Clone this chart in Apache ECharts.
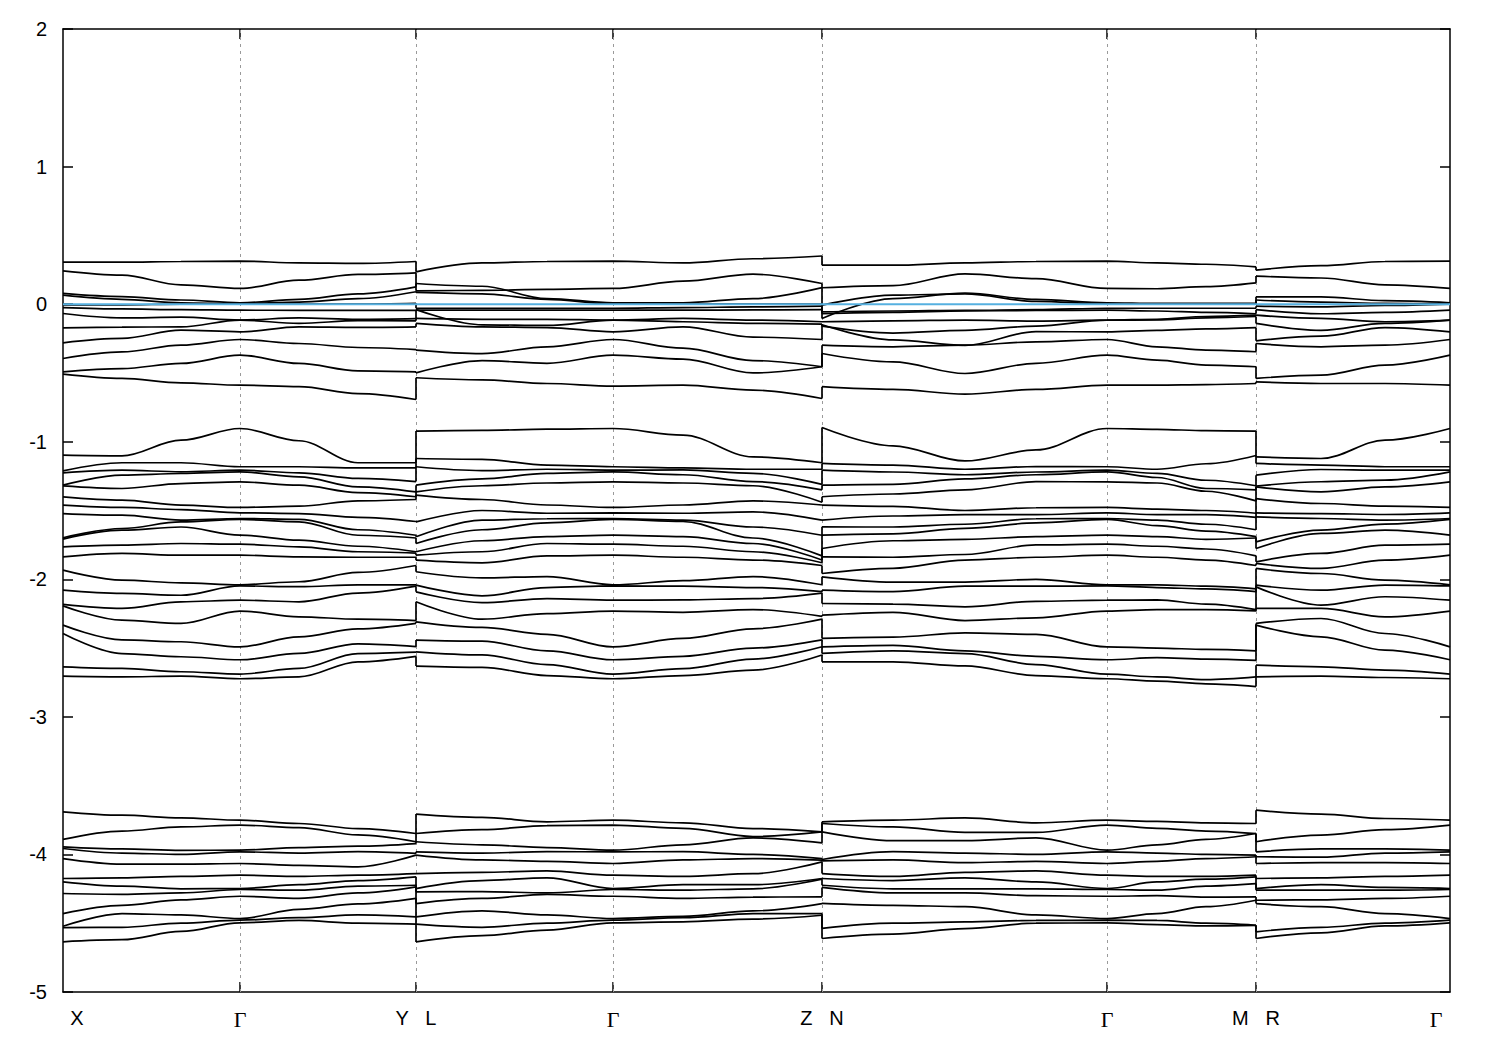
<!DOCTYPE html>
<html><head><meta charset="utf-8">
<script src="https://cdn.jsdelivr.net/npm/echarts@6/dist/echarts.min.js"></script>
<style>html,body{margin:0;padding:0;background:#fff}#c{width:1500px;height:1050px}</style>
</head><body><div id="c"></div>
<script>
// k-path sample positions (arbitrary path-length units) for the four path pieces
const kSeg1 = [0, 59, 118, 177, 236, 295, 353];
const kSeg2 = [353, 419, 484, 550, 620, 690, 759];
const kSeg3 = [759, 830, 902, 973, 1044, 1094, 1143, 1193];
const kSeg4 = [1193, 1258, 1322, 1387];
// high-symmetry points and their tick labels
const kPoints = [0, 177, 353, 550, 759, 1044, 1193, 1387];
const kNames = ['X', 'Γ', 'Y   L', 'Γ', 'Z   N', 'Γ', 'M   R', 'Γ'];
const yTicks = [-5, -4, -3, -2, -1, 0, 1, 2];

// top valence group: one row per band, 26 values along the path
const topBands = [
  [0.305,0.305,0.31,0.313,0.30,0.296,0.31, 0.235,0.30,0.31,0.313,0.30,0.33,0.35, 0.283,0.283,0.30,0.31,0.313,0.30,0.29,0.271, 0.247,0.28,0.31,0.313],
  [0.242,0.211,0.14,0.114,0.174,0.216,0.228, 0.097,0.10,0.107,0.114,0.167,0.218,0.15, 0.119,0.135,0.22,0.185,0.114,0.112,0.128,0.155, 0.204,0.19,0.14,0.114],
  [0.078,0.055,0.03,0.01,0.035,0.075,0.126, 0.15,0.13,0.04,0.01,0.01,0.04,0.12, -0.104,0.04,0.08,0.035,0.01,0.005,0.005,0.005, 0.053,0.053,0.025,0.01],
  [0.065,0.035,0.01,0.002,0.015,0.04,0.09, 0.085,0.075,0.035,0.002,0.0,0.0,0.0, -0.007,0.065,0.075,0.02,0.002,0.0,0.0,0.0, 0.03,0.015,0.005,0.002],
  [-0.005,-0.005,0.0,0.0,0.0,0.0,0.005, -0.03,-0.03,-0.03,-0.03,-0.025,-0.02,-0.015, -0.056,-0.05,-0.045,-0.04,-0.03,-0.03,-0.03,-0.03, -0.015,-0.02,-0.01,0.0],
  [-0.025,-0.035,-0.04,-0.044,-0.045,-0.045,-0.045, -0.044,-0.044,-0.044,-0.044,-0.044,-0.042,-0.04, -0.07,-0.06,-0.05,-0.046,-0.044,-0.05,-0.06,-0.07, -0.04,-0.07,-0.06,-0.044],
  [-0.068,-0.10,-0.095,-0.116,-0.10,-0.11,-0.105, -0.04,-0.15,-0.155,-0.116,-0.104,-0.116,-0.128, -0.128,-0.121,-0.116,-0.123,-0.116,-0.11,-0.09,-0.08, -0.08,-0.104,-0.128,-0.116],
  [-0.172,-0.167,-0.165,-0.116,-0.14,-0.12,-0.121, -0.104,-0.11,-0.11,-0.116,-0.128,-0.14,-0.145, -0.16,-0.21,-0.19,-0.16,-0.116,-0.115,-0.10,-0.09, -0.14,-0.19,-0.14,-0.116],
  [-0.281,-0.249,-0.189,-0.201,-0.165,-0.169,-0.165, -0.14,-0.165,-0.17,-0.201,-0.165,-0.24,-0.257, -0.15,-0.26,-0.30,-0.20,-0.201,-0.19,-0.18,-0.17, -0.267,-0.233,-0.17,-0.201],
  [-0.395,-0.347,-0.298,-0.257,-0.286,-0.315,-0.33, -0.334,-0.36,-0.31,-0.257,-0.32,-0.41,-0.455, -0.298,-0.31,-0.298,-0.274,-0.257,-0.31,-0.334,-0.346, -0.286,-0.31,-0.298,-0.257],
  [-0.492,-0.468,-0.431,-0.371,-0.431,-0.485,-0.492, -0.50,-0.41,-0.43,-0.371,-0.40,-0.50,-0.455, -0.359,-0.42,-0.504,-0.43,-0.371,-0.407,-0.443,-0.455, -0.54,-0.516,-0.443,-0.371],
  [-0.509,-0.54,-0.572,-0.589,-0.60,-0.65,-0.693, -0.535,-0.55,-0.577,-0.596,-0.589,-0.625,-0.686, -0.60,-0.62,-0.654,-0.62,-0.589,-0.589,-0.585,-0.577, -0.565,-0.577,-0.577,-0.589]
];

// middle group: levels at each sampled k (26 rows), 20 bands each
const midAtGamma = [-0.904,-1.182,-1.207,-1.219,-1.292,-1.478,-1.517,-1.558,-1.565,-1.679,-1.745,-1.825,-2.040,-2.048,-2.152,-2.231,-2.491,-2.585,-2.689,-2.723];
const midLevels = [
  [-1.098,-1.212,-1.226,-1.316,-1.321,-1.401,-1.461,-1.522,-1.698,-1.708,-1.764,-1.837,-1.933,-2.079,-2.183,-2.193,-2.333,-2.394,-2.637,-2.704],
  [-1.103,-1.153,-1.207,-1.243,-1.34,-1.425,-1.478,-1.534,-1.631,-1.643,-1.752,-1.812,-2.006,-2.103,-2.212,-2.297,-2.44,-2.54,-2.648,-2.709],
  [-0.989,-1.153,-1.219,-1.231,-1.304,-1.461,-1.493,-1.57,-1.583,-1.62,-1.74,-1.825,-2.026,-2.116,-2.164,-2.321,-2.454,-2.563,-2.672,-2.704],
  midAtGamma,
  [-0.993,-1.182,-1.226,-1.255,-1.316,-1.468,-1.522,-1.565,-1.582,-1.716,-1.764,-1.837,-2.018,-2.054,-2.164,-2.273,-2.418,-2.539,-2.648,-2.709],
  [-1.153,-1.19,-1.267,-1.328,-1.37,-1.43,-1.55,-1.64,-1.68,-1.76,-1.80,-1.84,-1.95,-2.04,-2.10,-2.29,-2.36,-2.47,-2.54,-2.60],
  [-1.153,-1.19,-1.29,-1.365,-1.40,-1.42,-1.58,-1.68,-1.70,-1.80,-1.81,-1.84,-1.90,-2.04,-2.05,-2.30,-2.32,-2.49,-2.53,-2.56],
  [-0.923,-1.122,-1.182,-1.316,-1.364,-1.388,-1.583,-1.691,-1.74,-1.8,-1.825,-1.861,-1.945,-2.042,-2.091,-2.163,-2.309,-2.442,-2.527,-2.631],
  [-0.918,-1.128,-1.21,-1.27,-1.32,-1.42,-1.50,-1.57,-1.64,-1.72,-1.80,-1.88,-1.99,-2.12,-2.17,-2.29,-2.35,-2.45,-2.55,-2.64],
  [-0.909,-1.17,-1.20,-1.23,-1.30,-1.46,-1.52,-1.56,-1.59,-1.69,-1.74,-1.83,-1.98,-2.06,-2.14,-2.25,-2.40,-2.52,-2.62,-2.70],
  midAtGamma,
  [-0.952,-1.19,-1.205,-1.24,-1.30,-1.46,-1.52,-1.57,-1.58,-1.69,-1.76,-1.84,-2.01,-2.05,-2.15,-2.24,-2.43,-2.56,-2.65,-2.70],
  [-1.11,-1.20,-1.23,-1.29,-1.32,-1.43,-1.51,-1.62,-1.70,-1.74,-1.80,-1.86,-1.98,-2.06,-2.14,-2.22,-2.36,-2.50,-2.58,-2.66],
  [-1.153,-1.20,-1.31,-1.35,-1.44,-1.46,-1.57,-1.68,-1.83,-1.86,-1.88,-1.90,-2.04,-2.09,-2.10,-2.27,-2.29,-2.44,-2.49,-2.55],
  [-0.897,-1.158,-1.207,-1.316,-1.40,-1.461,-1.57,-1.619,-1.679,-1.776,-1.837,-1.958,-1.982,-2.079,-2.176,-2.261,-2.43,-2.491,-2.539,-2.6],
  [-1.03,-1.17,-1.22,-1.31,-1.38,-1.47,-1.54,-1.62,-1.67,-1.72,-1.84,-1.92,-2.02,-2.09,-2.18,-2.24,-2.42,-2.48,-2.52,-2.60],
  [-1.14,-1.20,-1.24,-1.27,-1.35,-1.50,-1.53,-1.60,-1.63,-1.71,-1.82,-1.86,-2.02,-2.05,-2.20,-2.30,-2.39,-2.52,-2.54,-2.63],
  [-1.06,-1.18,-1.22,-1.24,-1.29,-1.48,-1.53,-1.56,-1.59,-1.69,-1.75,-1.84,-2.00,-2.05,-2.16,-2.28,-2.40,-2.56,-2.62,-2.70],
  midAtGamma,
  [-0.91,-1.20,-1.23,-1.26,-1.30,-1.49,-1.53,-1.57,-1.61,-1.69,-1.76,-1.84,-2.04,-2.06,-2.15,-2.22,-2.50,-2.57,-2.71,-2.74],
  [-0.92,-1.16,-1.28,-1.34,-1.36,-1.50,-1.53,-1.60,-1.65,-1.71,-1.78,-1.86,-2.05,-2.07,-2.18,-2.22,-2.51,-2.58,-2.73,-2.76],
  [-0.923,-1.10,-1.32,-1.35,-1.43,-1.52,-1.55,-1.64,-1.69,-1.70,-1.83,-1.90,-2.07,-2.09,-2.22,-2.23,-2.52,-2.59,-2.71,-2.78],
  [-1.11,-1.158,-1.243,-1.323,-1.328,-1.413,-1.517,-1.546,-1.728,-1.776,-1.873,-1.885,-1.921,-2.043,-2.055,-2.212,-2.321,-2.333,-2.624,-2.709],
  [-1.122,-1.17,-1.202,-1.291,-1.364,-1.449,-1.522,-1.558,-1.643,-1.667,-1.812,-1.921,-1.958,-2.079,-2.188,-2.212,-2.285,-2.418,-2.636,-2.704],
  [-0.989,-1.182,-1.207,-1.279,-1.328,-1.468,-1.529,-1.57,-1.599,-1.643,-1.752,-1.861,-2.006,-2.042,-2.127,-2.273,-2.394,-2.515,-2.660,-2.714],
  midAtGamma
];

// lower group: levels at each sampled k (26 rows), 12 bands each
const lowAtGamma = [-3.751,-3.787,-3.969,-3.981,-4.066,-4.151,-4.248,-4.255,-4.304,-4.466,-4.478,-4.497];
const lowLevels = [
  [-3.69,-3.891,-3.945,-3.957,-4.03,-4.175,-4.199,-4.284,-4.43,-4.522,-4.532,-4.635],
  [-3.715,-3.83,-3.96,-3.99,-4.07,-4.17,-4.23,-4.29,-4.37,-4.43,-4.53,-4.62],
  [-3.734,-3.80,-3.97,-4.00,-4.07,-4.16,-4.25,-4.28,-4.33,-4.44,-4.50,-4.56],
  lowAtGamma,
  [-3.775,-3.805,-3.95,-3.99,-4.08,-4.16,-4.22,-4.26,-4.32,-4.40,-4.46,-4.48],
  [-3.812,-3.858,-3.94,-3.98,-4.09,-4.15,-4.19,-4.23,-4.28,-4.36,-4.44,-4.50],
  [-3.848,-3.908,-3.921,-3.993,-4.005,-4.139,-4.163,-4.224,-4.236,-4.32,-4.454,-4.507],
  [-3.707,-3.848,-3.908,-3.981,-4.005,-4.139,-4.248,-4.272,-4.357,-4.454,-4.507,-4.636],
  [-3.731,-3.82,-3.93,-3.99,-4.04,-4.13,-4.19,-4.27,-4.32,-4.41,-4.53,-4.59],
  [-3.763,-3.79,-3.95,-3.98,-4.05,-4.12,-4.17,-4.28,-4.29,-4.44,-4.50,-4.55],
  lowAtGamma,
  [-3.77,-3.81,-3.93,-3.98,-4.04,-4.16,-4.22,-4.26,-4.32,-4.45,-4.46,-4.49],
  [-3.812,-3.87,-3.88,-4.00,-4.03,-4.14,-4.22,-4.25,-4.31,-4.41,-4.43,-4.47],
  [-3.836,-3.836,-3.916,-4.03,-4.042,-4.054,-4.175,-4.18,-4.308,-4.357,-4.43,-4.442],
  [-3.763,-3.775,-3.836,-4.037,-4.047,-4.139,-4.175,-4.224,-4.24,-4.356,-4.538,-4.611],
  [-3.75,-3.80,-3.90,-3.98,-4.04,-4.16,-4.19,-4.25,-4.28,-4.37,-4.50,-4.58],
  [-3.735,-3.84,-3.90,-3.99,-4.06,-4.13,-4.17,-4.25,-4.28,-4.38,-4.49,-4.54],
  [-3.77,-3.84,-3.88,-4.0,-4.05,-4.12,-4.20,-4.25,-4.30,-4.44,-4.48,-4.50],
  lowAtGamma,
  [-3.76,-3.81,-3.93,-3.99,-4.05,-4.16,-4.20,-4.26,-4.30,-4.43,-4.48,-4.51],
  [-3.77,-3.83,-3.89,-4.00,-4.03,-4.16,-4.18,-4.23,-4.31,-4.38,-4.50,-4.52],
  [-3.775,-3.848,-3.848,-4.005,-4.017,-4.151,-4.163,-4.212,-4.309,-4.333,-4.515,-4.515],
  [-3.678,-3.908,-3.981,-4.017,-4.066,-4.175,-4.248,-4.26,-4.333,-4.357,-4.563,-4.611],
  [-3.707,-3.86,-3.96,-4.02,-4.06,-4.17,-4.22,-4.26,-4.33,-4.38,-4.53,-4.57],
  [-3.739,-3.82,-3.96,-3.99,-4.06,-4.16,-4.24,-4.26,-4.32,-4.43,-4.50,-4.52],
  lowAtGamma
];

const fermiLevel = 0;

// ---------- build series ----------
const segK = [kSeg1, kSeg2, kSeg3, kSeg4];
const segStart = [0, 7, 14, 22];
const bandStyle = { color: '#000', width: 1.7 };
const series = [];
const jumps = [];

function addBand(vals) {
  segK.forEach((ks, s) => {
    series.push({
      type: 'line', silent: true, showSymbol: false, symbol: 'none',
      smooth: 0.35, smoothMonotone: 'x', z: 3,
      lineStyle: bandStyle, animation: false,
      data: ks.map((k, i) => [k, vals[segStart[s] + i]])
    });
    if (s > 0) {
      const kb = ks[0];
      jumps.push({ coords: [[kb, vals[segStart[s] - 1]], [kb, vals[segStart[s]]]] });
    }
  });
}
topBands.forEach(addBand);
const nMid = midLevels[0].length;
for (let b = 0; b < nMid; b++) addBand(midLevels.map(r => r[b]));
const nLow = lowLevels[0].length;
for (let b = 0; b < nLow; b++) addBand(lowLevels.map(r => r[b]));

series.push({
  type: 'lines', coordinateSystem: 'cartesian2d', silent: true, z: 3, animation: false,
  lineStyle: { color: '#000', width: 1.7, opacity: 1 }, data: jumps
});

// vertical dashed guides + Fermi level
series.push({
  type: 'line', silent: true, showSymbol: false, z: 5, animation: false,
  lineStyle: { color: '#56b0e0', width: 2 },
  data: [[kPoints[0], fermiLevel], [kPoints[kPoints.length - 1], fermiLevel]],
  markLine: {
    silent: true, symbol: 'none', animation: false, z: 1,
    label: { show: false },
    lineStyle: { color: '#9a9a9a', type: [3, 4], width: 1 },
    data: kPoints.slice(1, -1).map(k => ({ xAxis: k }))
  }
});

const innerTicks = kPoints.slice(1, -1);
function fmtX(v) {
  const i = kPoints.indexOf(v);
  if (i < 0) return '';
  const n = kNames[i];
  if (i === 0) return '{first|' + n + '}';
  if (i === kPoints.length - 1) return '{last|' + n + '}';
  if (n === 'Γ') return '{g|Γ}';
  return '{t|' + n + '}';
}
const txt = { fontFamily: 'Liberation Sans, Arial, sans-serif', fontSize: 20, color: '#000' };
const gam = { fontFamily: 'Liberation Serif, DejaVu Serif, serif', fontSize: 22, color: '#000' };

const axisLine = { show: true, onZero: false, lineStyle: { color: '#000', width: 1.5 } };
const option = {
  backgroundColor: '#fff',
  animation: false,
  grid: { left: 63, right: 50, top: 29, bottom: 58, containLabel: false },
  xAxis: [{
    type: 'value', min: kPoints[0], max: kPoints[kPoints.length - 1], position: 'bottom',
    axisLine: axisLine,
    axisTick: { show: true, inside: true, length: 10, customValues: innerTicks, lineStyle: { color: '#000', width: 1.5 } },
    axisLabel: {
      show: true, margin: 16, customValues: kPoints, formatter: fmtX, color: '#000',
      rich: {
        t: txt, g: gam,
        first: Object.assign({}, txt, { padding: [0, 0, 0, 28] }),
        last: Object.assign({}, gam, { padding: [0, 28, 0, 0] })
      }
    },
    splitLine: { show: false }
  }, {
    type: 'value', min: kPoints[0], max: kPoints[kPoints.length - 1], position: 'top',
    axisLine: axisLine,
    axisTick: { show: true, inside: true, length: 10, customValues: innerTicks, lineStyle: { color: '#000', width: 1.5 } },
    axisLabel: { show: false }, splitLine: { show: false }
  }],
  yAxis: [{
    type: 'value', min: yTicks[0], max: yTicks[yTicks.length - 1], interval: 1, position: 'left',
    axisLine: axisLine,
    axisTick: { show: true, inside: true, length: 10, lineStyle: { color: '#000', width: 1.5 } },
    axisLabel: { show: true, margin: 16, color: '#000', fontSize: 20, fontFamily: 'Liberation Sans, Arial, sans-serif' },
    splitLine: { show: false }
  }, {
    type: 'value', min: yTicks[0], max: yTicks[yTicks.length - 1], interval: 1, position: 'right',
    axisLine: axisLine,
    axisTick: { show: true, inside: true, length: 10, lineStyle: { color: '#000', width: 1.5 } },
    axisLabel: { show: false }, splitLine: { show: false }
  }],
  series: series
};
const chart = echarts.init(document.getElementById('c'), null, { renderer: 'svg' });
chart.setOption(option);
</script>
</body></html>
